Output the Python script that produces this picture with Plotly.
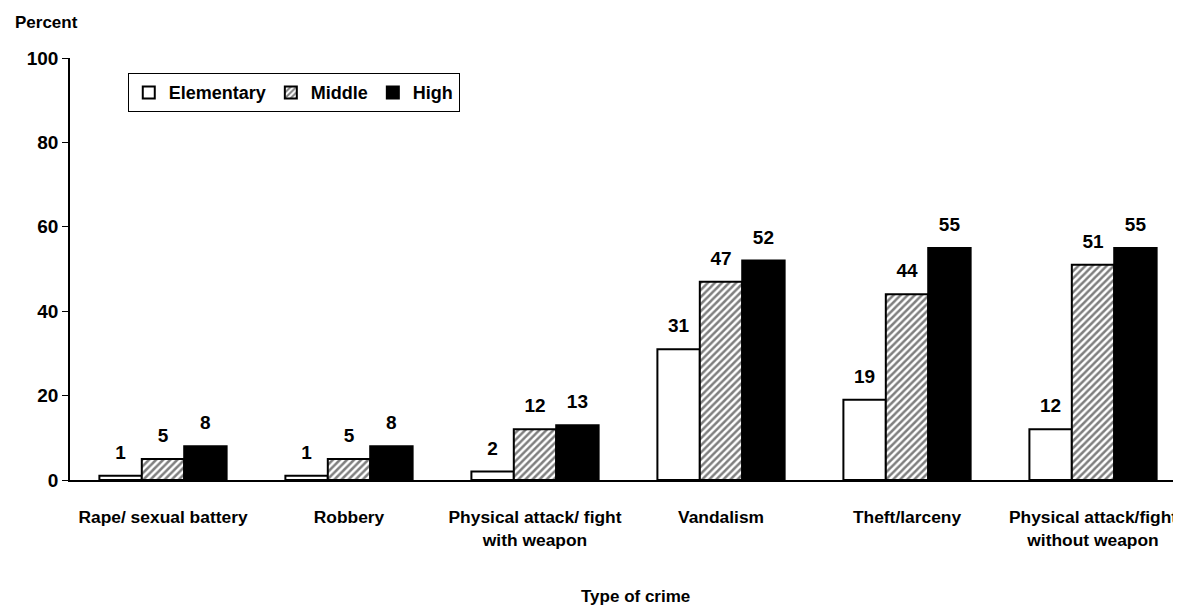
import plotly.graph_objects as go

categories = [
    "Rape/ sexual battery",
    "Robbery",
    "Physical attack/ fight<br>with weapon",
    "Vandalism",
    "Theft/larceny",
    "Physical attack/fight<br>without weapon",
]
elementary = [1, 1, 2, 31, 19, 12]
middle = [5, 5, 12, 47, 44, 51]
high = [8, 8, 13, 52, 55, 55]
y_ticks = [0, 20, 40, 60, 80, 100]

FONT = "Liberation Sans, Arial, sans-serif"
BLACK = "#000000"
WHITE = "#ffffff"
BAR_W = 0.228

series = [
    ("Elementary", elementary, dict(color=WHITE, line=dict(color=BLACK, width=2))),
    ("Middle", middle, dict(color=WHITE, line=dict(color=BLACK, width=2),
                            pattern=dict(shape="/", fgcolor=BLACK, bgcolor=WHITE,
                                         size=5, solidity=0.5))),
    ("High", high, dict(color=BLACK, line=dict(color=BLACK, width=2))),
]

idx = list(range(len(categories)))
fig = go.Figure()

for k, (name, vals, marker) in enumerate(series):
    xs = [i + (k - 1) * BAR_W for i in idx]
    fig.add_trace(go.Bar(
        x=xs, y=vals, width=BAR_W, name=name, marker=marker,
        hoverinfo="skip",
    ))

# value labels, lifted above the bar tops by an invisible marker
for k, (name, vals, marker) in enumerate(series):
    xs = [i + (k - 1) * BAR_W for i in idx]
    fig.add_trace(go.Scatter(
        x=xs, y=vals, mode="markers+text", text=[str(v) for v in vals],
        textposition="top center",
        marker=dict(size=18, opacity=0),
        textfont=dict(size=19, color=BLACK, family=FONT, weight="bold"),
        showlegend=False, hoverinfo="skip", cliponaxis=False,
    ))

fig.add_annotation(
    xref="paper", yref="paper", x=-0.051, y=1.085, xanchor="left",
    yanchor="middle", text="Percent", showarrow=False,
    font=dict(size=17, color=BLACK, family=FONT, weight="bold"),
)
fig.add_annotation(
    xref="paper", yref="paper", x=0.509, y=-0.277, xanchor="center",
    yanchor="middle", text="Type of crime", showarrow=False,
    font=dict(size=17, color=BLACK, family=FONT, weight="bold"),
)

# page body has an 8px margin, so the figure is shrunk to fit the window
fig.update_layout(
    width=1173, height=603,
    paper_bgcolor=WHITE, plot_bgcolor=WHITE,
    margin=dict(l=62, r=0, t=50, b=131),
    barmode="overlay",
    showlegend=True,
    legend=dict(
        orientation="h", x=0.052, y=0.964, xanchor="left", yanchor="top",
        bordercolor=BLACK, borderwidth=1, bgcolor=WHITE,
        font=dict(size=18, color=BLACK, family=FONT, weight="bold"),
        itemwidth=30, tracegroupgap=0,
    ),
    xaxis=dict(
        range=[-0.5, 5.473], tickvals=idx, ticktext=categories,
        showline=True, linecolor=BLACK, linewidth=2, ticks="",
        showgrid=False, zeroline=False, ticklabelstandoff=20,
        ticklabeloverflow="allow",
        tickfont=dict(size=17.4, color=BLACK, family=FONT, weight="bold"),
    ),
    yaxis=dict(
        range=[0, 100], tickvals=y_ticks, showline=True, linecolor=BLACK,
        linewidth=1.5, ticks="outside", ticklen=6, tickcolor=BLACK,
        showgrid=False, zeroline=False,
        tickfont=dict(size=19, color=BLACK, family=FONT, weight="bold"),
    ),
)

fig.write_html("out.html")
